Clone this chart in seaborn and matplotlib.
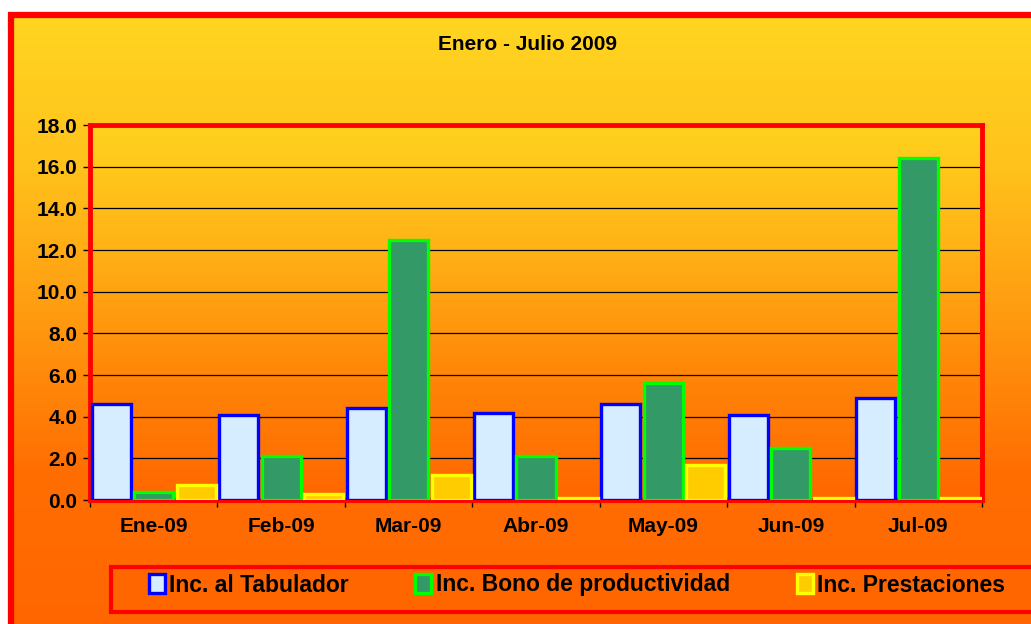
import numpy as np
import pandas as pd
import matplotlib
matplotlib.use("Agg")
import matplotlib.pyplot as plt
import seaborn as sns
from matplotlib.colors import LinearSegmentedColormap
from matplotlib.patches import Rectangle, Patch

meses = ["Ene-09", "Feb-09", "Mar-09", "Abr-09", "May-09", "Jun-09", "Jul-09"]
series = ["Inc. al Tabulador", "Inc. Bono de productividad", "Inc. Prestaciones"]
tabulador = [4.6, 4.1, 4.4, 4.2, 4.6, 4.1, 4.9]
bono = [0.4, 2.1, 12.5, 2.1, 5.6, 2.5, 16.4]
prestaciones = [0.7, 0.3, 1.2, 0.1, 1.7, 0.1, 0.1]

fills = ["#D6ECFF", "#339966", "#FFCC00"]
edges = ["#0000FF", "#00FF00", "#FFFF00"]

df = pd.DataFrame({
    "mes": meses * 3,
    "serie": [series[0]] * 7 + [series[1]] * 7 + [series[2]] * 7,
    "valor": tabulador + bono + prestaciones,
})

sns.set_style("white")
plt.rcParams["font.family"] = ["Liberation Sans", "DejaVu Sans"]
plt.rcParams["font.weight"] = "bold"
plt.rcParams["text.color"] = "black"
plt.rcParams["xtick.color"] = "black"
plt.rcParams["ytick.color"] = "black"

W, H = 1031, 624
fig = plt.figure(figsize=(W / 100, H / 100), dpi=100, facecolor="white")

# outer gradient background (inside the red frame)
bg = fig.add_axes([9 / W, 0, 1 - 9 / W, (H - 13) / H], zorder=-3)
cm_out = LinearSegmentedColormap.from_list("out", ["#FFD621", "#FFC21C", "#FF9A10", "#FF6E02", "#FF6600"])
grad = np.linspace(0, 1, 256).reshape(-1, 1)
bg.imshow(grad, cmap=cm_out, aspect="auto", extent=[0, 1, 0, 1])
bg.axis("off")

# plot area
left, right, top, bottom = 90, 982, 125, 500
pos = [left / W, (H - bottom) / H, (right - left) / W, (bottom - top) / H]
pbg = fig.add_axes(pos, zorder=-2)
cm_in = LinearSegmentedColormap.from_list("in", ["#FFD21E", "#FFB216", "#FF8608", "#FF6600"])
pbg.imshow(grad, cmap=cm_in, aspect="auto", extent=[0, 1, 0, 1])
pbg.axis("off")

ax = fig.add_axes(pos, zorder=0)
ax.patch.set_alpha(0)
sns.barplot(data=df, x="mes", y="valor", hue="serie", palette=fills,
            width=1.0, gap=0.08, ax=ax, legend=False, saturation=1)

for cont, ec in zip(ax.containers, edges):
    for p in cont.patches:
        p.set_edgecolor(ec)
        p.set_linewidth(2.4)
        p.set_zorder(5)

ax.set_ylim(0, 18)
ax.set_xlim(-0.5, 6.5)
ax.set_yticks(np.arange(0, 18.1, 2))
ax.set_yticklabels([f"{v:.1f}" for v in np.arange(0, 18.1, 2)], fontsize=15, fontweight="bold")
ax.set_xticks(range(7))
ax.set_xticklabels(meses, fontsize=15, fontweight="bold")
ax.set_xticks(np.arange(-0.5, 6.6, 1), minor=True)
ax.tick_params(axis="x", which="major", length=0, pad=12)
ax.tick_params(axis="x", which="minor", length=5, width=1, color="black", direction="out", bottom=True)
ax.tick_params(axis="y", length=5, width=1, color="black", direction="out", left=True, pad=4)
ax.set_xlabel("")
ax.set_ylabel("")
ax.yaxis.grid(True, color="black", linewidth=0.9)
ax.set_axisbelow(True)
for s in ax.spines.values():
    s.set_visible(True)
    s.set_color("red")
    s.set_linewidth(3.5)
    s.set_zorder(4)

# outer red frame
fig.patches.append(Rectangle((11 / W, -0.1), 1.2, 1.1 - 15 / H, transform=fig.transFigure,
                             fill=False, edgecolor="red", linewidth=4.5, zorder=5))

fig.text(527 / W, 1 - 45 / H, "Enero - Julio 2009", ha="center", va="center",
         fontsize=15, fontweight="bold")

# legend box
fig.patches.append(Rectangle((111 / W, (H - 612) / H), 1.0, 45 / H, transform=fig.transFigure,
                             facecolor="#FF6600", edgecolor="red", linewidth=3, zorder=1))
handles = [Patch(facecolor=f, edgecolor=e, linewidth=2.4) for f, e in zip(fills, edges)]
leg = fig.legend(handles, series, loc="center left", bbox_to_anchor=(128 / W, (H - 585) / H),
                 ncol=3, frameon=False, handlelength=0.7, handleheight=0.9, handletextpad=0.2,
                 columnspacing=2.9, prop={"size": 16.5, "weight": "bold"})
leg.set_zorder(6)

fig.savefig("out.png", dpi=100, facecolor="white")
